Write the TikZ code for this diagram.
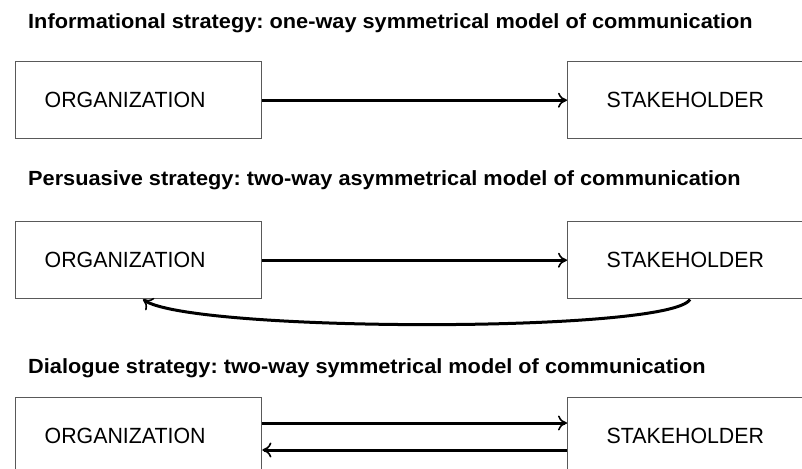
\documentclass[tikz,border=0pt]{standalone}
\usepackage{fontspec}
\setmainfont{Liberation Sans}
\newfontfamily\titlefont[FakeStretch=1.06]{Liberation Sans Bold}
\newfontfamily\boxfont[FakeStretch=0.97]{Liberation Sans}
\usetikzlibrary{arrows.meta}
\frenchspacing
\begin{document}
\begin{tikzpicture}[x=1pt,y=-1pt,
  titletext/.style={anchor=base west,inner sep=0pt,font=\titlefont\fontsize{20.5}{23}\selectfont},
  orgbox/.style={draw=black!65,line width=1.4pt,anchor=north west,minimum height=77pt,
    text width=188pt,inner xsep=29pt,inner ysep=0pt,align=left,font=\boxfont\fontsize{22}{24}\selectfont},
  stakebox/.style={draw=black!65,line width=1.4pt,anchor=north west,minimum height=77pt,
    text width=162pt,inner xsep=39pt,inner ysep=0pt,align=left,font=\boxfont\fontsize{22}{24}\selectfont},
  flow/.style={line width=3pt,-{To[length=9pt,width=15pt,line width=1.6pt]}}]
\useasboundingbox[fill=white] (0,0) rectangle (802,468);
% row 1
\node[titletext] (t1) at (28,29) {Informational strategy: one-way symmetrical model of communication};
\node[orgbox] (o1) at (15,61) {ORGANIZATION};
\node[stakebox] (s1) at (567,61) {STAKEHOLDER};
\draw[flow] (o1) -- (s1);
% row 2
\node[titletext] (t2) at (28,185) {Persuasive strategy: two-way asymmetrical model of communication};
\node[orgbox] (o2) at (15,221) {ORGANIZATION};
\node[stakebox] (s2) at (567,221) {STAKEHOLDER};
\draw[flow] (o2) -- (s2);
\draw[flow] ([xshift=123pt]s2.south west) .. controls +(-20,34) and +(47,33) .. ([xshift=128pt]o2.south west);
% row 3
\node[titletext] (t3) at (28,373) {Dialogue strategy: two-way symmetrical model of communication};
\node[orgbox] (o3) at (15,397) {ORGANIZATION};
\node[stakebox] (s3) at (567,397) {STAKEHOLDER};
\draw[flow] ([yshift=-26pt]o3.north east) -- ([yshift=-26pt]s3.north west);
\draw[flow] ([yshift=-53pt]s3.north west) -- ([yshift=-53pt]o3.north east);
\end{tikzpicture}
\end{document}
